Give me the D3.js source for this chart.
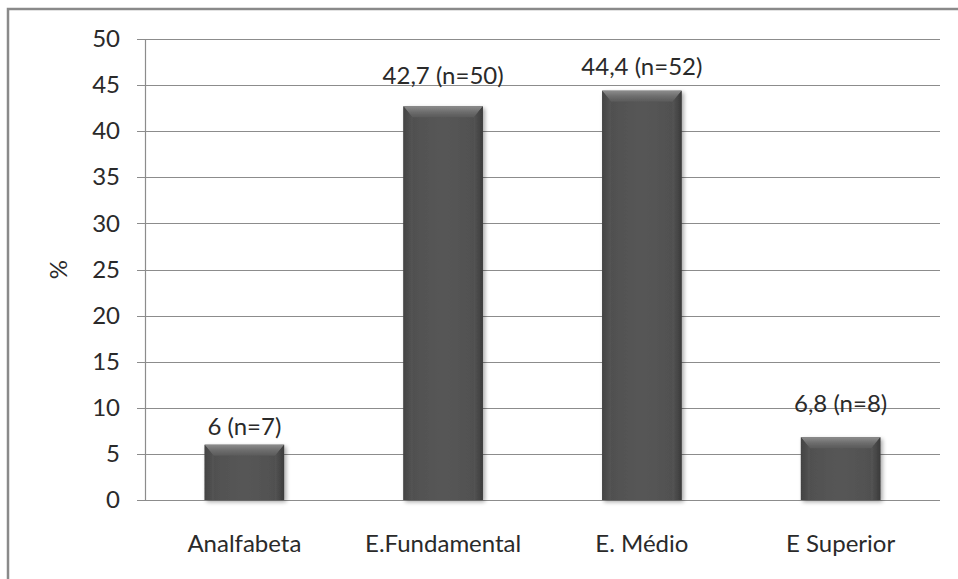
<!DOCTYPE html>
<html><head><meta charset="utf-8">
<script src="https://cdn.jsdelivr.net/npm/d3@7"></script>
<style>html,body{margin:0;padding:0;background:#fff;}svg{display:block;}</style>
</head><body>
<svg id="c" width="958" height="579"></svg>
<script>
const categories = ["Analfabeta", "E.Fundamental", "E. Médio", "E Superior"];
const values = [6, 42.7, 44.4, 6.8];
const counts = [7, 50, 52, 8];
const valueLabels = ["6 (n=7)", "42,7 (n=50)", "44,4 (n=52)", "6,8 (n=8)"];
const yTicks = [0, 5, 10, 15, 20, 25, 30, 35, 40, 45, 50];
const yTitle = "%";

const svg = d3.select("#c");
const W = 958, H = 579;
const m = {left: 145, right: 18, top: 39, bottom: 79};
const FONT = "Lato, 'Open Sans', sans-serif";
const FS = 24;
const TXT = "#2a2a2a";

// outer frame (left/top visible)
svg.append("path").attr("d", `M8,${H} L8,9 L${W},9`).attr("fill","none").attr("stroke","#8a8a8a").attr("stroke-width",2.5);

const x = d3.scaleBand().domain(categories).range([m.left, W - m.right]).paddingInner(0.6).paddingOuter(0.3);
const y = d3.scaleLinear().domain([0, 50]).range([H - m.bottom, m.top]);

const defs = svg.append("defs");
const gBody = defs.append("linearGradient").attr("id","gBody").attr("x1",0).attr("x2",1).attr("y1",0).attr("y2",0);
[[0,"#3c3c3c"],[0.1,"#505050"],[0.5,"#575757"],[0.9,"#505050"],[1,"#3c3c3c"]].forEach(s=>gBody.append("stop").attr("offset",s[0]).attr("stop-color",s[1]));
const gTop = defs.append("linearGradient").attr("id","gTop").attr("x1",0).attr("x2",0).attr("y1",0).attr("y2",1);
[[0,"#8c8c8c"],[0.5,"#6e6e6e"],[1,"#5a5a5a"]].forEach(s=>gTop.append("stop").attr("offset",s[0]).attr("stop-color",s[1]));
const gL = defs.append("linearGradient").attr("id","gL").attr("x1",0).attr("x2",1).attr("y1",0).attr("y2",0);
[[0,"#444"],[1,"#555"]].forEach(s=>gL.append("stop").attr("offset",s[0]).attr("stop-color",s[1]));
const gR = defs.append("linearGradient").attr("id","gR").attr("x1",0).attr("x2",1).attr("y1",0).attr("y2",0);
[[0,"#555"],[1,"#3a3a3a"]].forEach(s=>gR.append("stop").attr("offset",s[0]).attr("stop-color",s[1]));
const sh = defs.append("filter").attr("id","sh").attr("x","-20%").attr("y","-20%").attr("width","140%").attr("height","140%");
sh.append("feGaussianBlur").attr("in","SourceAlpha").attr("stdDeviation",2);
sh.append("feOffset").attr("dx",2).attr("dy",2).attr("result","b");
sh.append("feComponentTransfer").append("feFuncA").attr("type","linear").attr("slope",0.35);
const mg = sh.append("feMerge"); mg.append("feMergeNode"); mg.append("feMergeNode").attr("in","SourceGraphic");

// gridlines
svg.append("g").selectAll("line").data(yTicks).join("line")
  .attr("x1", m.left - 8).attr("x2", W - m.right)
  .attr("y1", d => Math.round(y(d)) + 0.5).attr("y2", d => Math.round(y(d)) + 0.5)
  .attr("stroke", "#8c8c8c").attr("stroke-width", 1.2);

// y axis
const yAxis = d3.axisLeft(y).tickValues(yTicks).tickSize(0).tickPadding(25).tickFormat(d3.format("d"));
const ya = svg.append("g").attr("transform", `translate(${m.left},0)`).call(yAxis);
ya.select(".domain").attr("stroke","#8c8c8c").attr("stroke-width",1.2);
ya.selectAll("text").attr("font-family", FONT).attr("font-size", FS).attr("fill", TXT);

// x axis labels
const xAxis = d3.axisBottom(x).tickSize(0).tickPadding(35);
const xa = svg.append("g").attr("transform", `translate(0,${y(0)})`).call(xAxis);
xa.select(".domain").remove();
xa.selectAll("text").attr("font-family", FONT).attr("font-size", FS).attr("fill", TXT);

// y title
svg.append("text").attr("transform", `translate(67,${(y(0)+y(50))/2}) rotate(-90)`)
  .attr("text-anchor","middle").attr("font-family", FONT).attr("font-size", FS).attr("fill",TXT).text(yTitle);

// bars
const data = categories.map((c,i)=>({c, v: values[i], n: counts[i], lab: valueLabels[i]}));
const bw = x.bandwidth();
const bev = 9;
const bars = svg.append("g").selectAll("g").data(data).join("g").attr("filter","url(#sh)");
bars.append("rect").attr("x", d=>x(d.c)).attr("y", d=>y(d.v)).attr("width", bw).attr("height", d=>y(0)-y(d.v)).attr("fill","url(#gBody)");
bars.append("path").attr("fill","url(#gTop)").attr("d", d=>{
  const x0=x(d.c), x1=x0+bw, t=y(d.v);
  return `M${x0},${t} L${x1},${t} L${x1-bev},${t+bev+2} L${x0+bev},${t+bev+2} Z`;
});
bars.append("path").attr("fill","url(#gL)").attr("d", d=>{
  const x0=x(d.c), t=y(d.v), b=y(0);
  return `M${x0},${t} L${x0+bev},${t+bev+2} L${x0+bev},${b} L${x0},${b} Z`;
}).attr("opacity",0.8);
bars.append("path").attr("fill","url(#gR)").attr("d", d=>{
  const x1=x(d.c)+bw, t=y(d.v), b=y(0);
  return `M${x1},${t} L${x1-bev},${t+bev+2} L${x1-bev},${b} L${x1},${b} Z`;
}).attr("opacity",0.8);

// value labels
const lift = {"Analfabeta": 10, "E.Fundamental": 22, "E. Médio": 16, "E Superior": 25};
svg.append("g").selectAll("text").data(data).join("text")
  .attr("x", d=>x(d.c)+bw/2).attr("y", d=>y(d.v)-lift[d.c])
  .attr("text-anchor","middle").attr("font-family", FONT).attr("font-size", FS).attr("fill",TXT)
  .text(d=>d.lab);
</script>
</body></html>
